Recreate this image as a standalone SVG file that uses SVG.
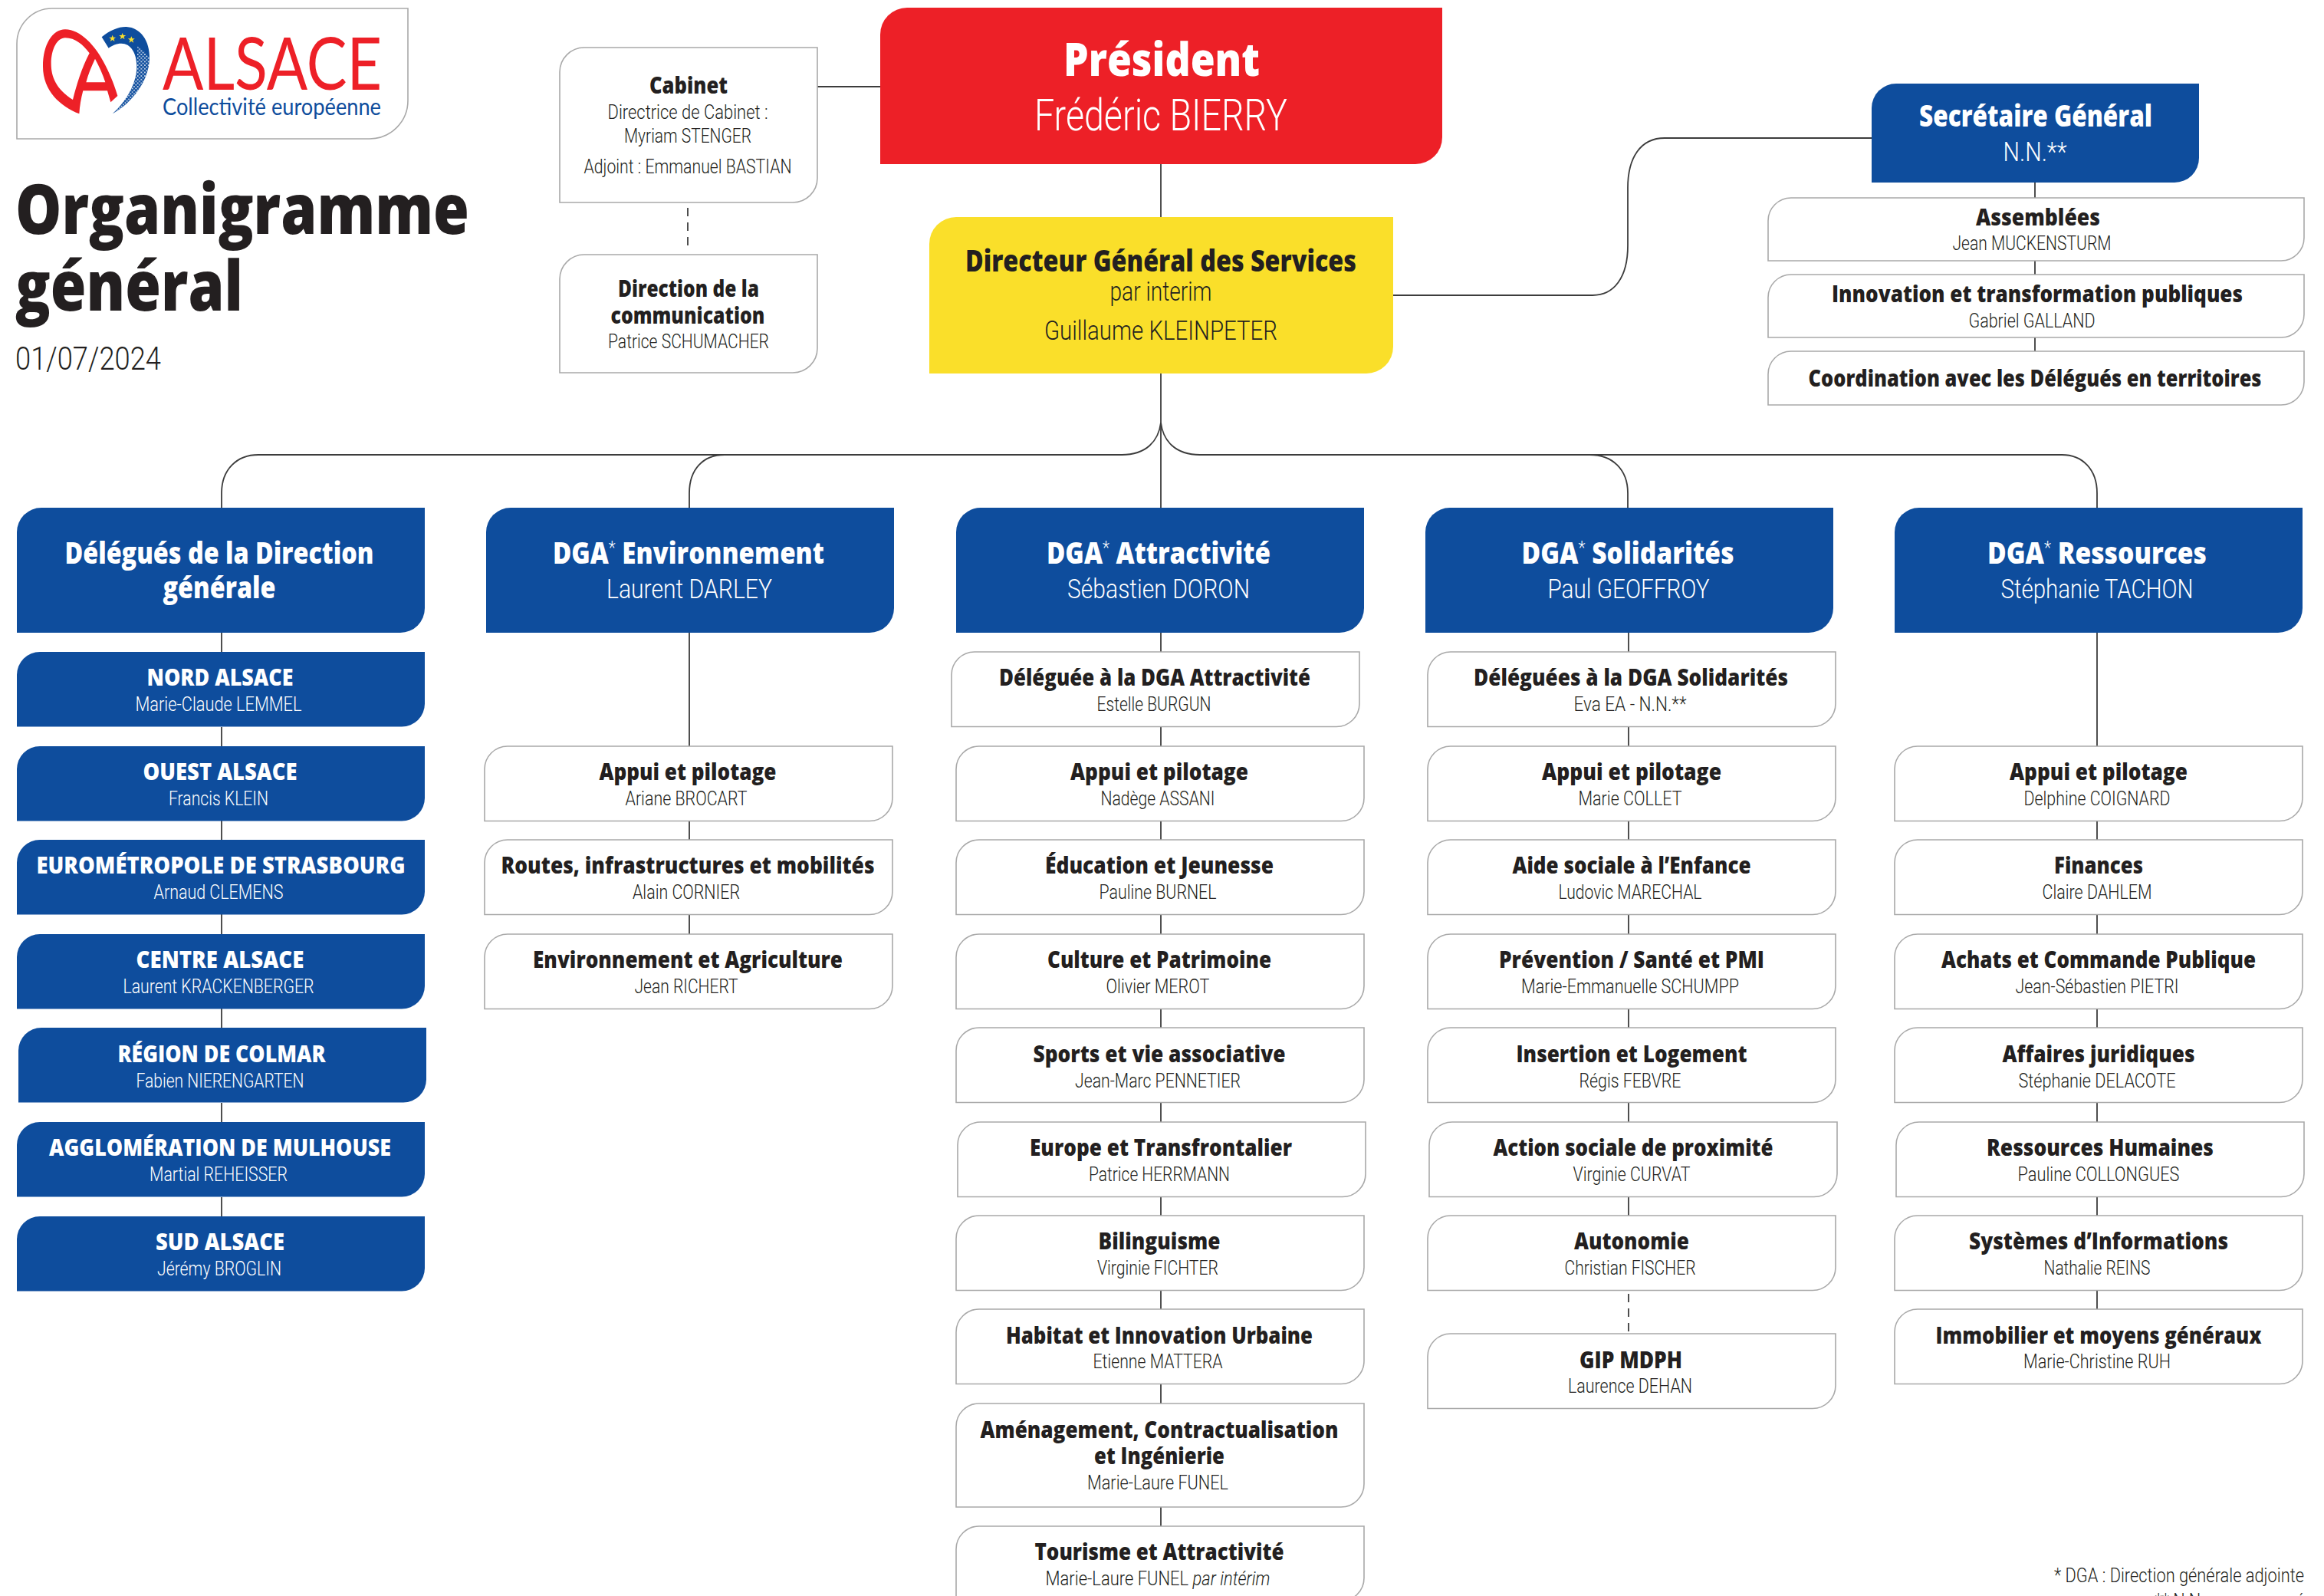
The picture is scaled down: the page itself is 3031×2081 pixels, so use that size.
<svg xmlns="http://www.w3.org/2000/svg" width="3031" height="2081" viewBox="0 0 3031 2081">
<style>
text{text-anchor:middle;fill:#231f20;font-family:"Liberation Sans",Arial,sans-serif}
.t,.h,.bt{font-family:"Open Sans","Noto Sans",sans-serif;font-weight:800}
.n,.l,.hn{font-family:Roboto,"Liberation Sans",sans-serif;font-weight:300}
.t{font-size:30px}.n{font-size:26px}.h{font-size:38px}.hn{font-size:35px}
.w{fill:#fff}
.la{text-anchor:start}
.sup{font-size:24px;font-weight:300;font-family:Roboto,sans-serif;baseline-shift:13px}
.wb{fill:#fff;stroke:#a9a9a9;stroke-width:1.6}
.bb{fill:#0e4d9d}
#connectors path{fill:none;stroke:#3c3c3c;stroke-width:1.8}
#connectors .d{stroke-dasharray:11 8}
</style>
<defs>
<path id="box" d="M0 97.5V30A30 30 0 0 1 30 0H532V67.5A30 30 0 0 1 502 97.5Z"/>
<path id="head" d="M0 163V32A32 32 0 0 1 32 0H532V131A32 32 0 0 1 500 163Z"/>
<path id="star" fill="#fadf2a" d="M0-13l3.5 9h10l-8 6 3 10-8.500-6-8.500 6 3-10-8-6h10Z"/>
<pattern id="dots" width="14" height="14" patternUnits="userSpaceOnUse"><circle cx="4" cy="4" r="2.7" fill="#fff"/><circle cx="11" cy="11" r="2.7" fill="#fff"/></pattern>
</defs>
<rect width="3031" height="2081" fill="#fff"/>
<g id="connectors">
<path d="M1066 113H1148"/><path class="d" d="M897 271V323"/>
<path d="M1514 214V283"/><path d="M1514 487V662"/>
<path d="M1817 385H2077C2105 385 2123 362 2123 320V245C2123 205 2140 180 2171 180H2441"/>
<path d="M2654 238V258"/><path d="M2654 340V358"/><path d="M2654 440V458"/>
<path d="M1514 551C1511 575 1495 593 1463 593H337C309 593 289 612 289 643V662"/>
<path d="M1463 593H945C917 593 899 612 899 643V662"/>
<path d="M1514 551C1517 575 1533 593 1565 593H2073C2103 593 2123 612 2123 643V662"/>
<path d="M2073 593H2689C2716 593 2735 612 2735 643V662"/>
<path d="M289 825V850"/><path d="M289 948V973"/><path d="M289 1070V1095"/><path d="M289 1192V1218"/><path d="M289 1315V1340"/><path d="M289 1438V1463"/><path d="M289 1561V1586"/>
<path d="M899 825V973"/><path d="M899 1070V1095"/><path d="M899 1192V1218"/>
<path d="M1514 825V850"/><path d="M1514 948V973"/><path d="M1514 1070V1095"/><path d="M1514 1192V1218"/><path d="M1514 1315V1340"/><path d="M1514 1438V1463"/><path d="M1514 1561V1585"/><path d="M1514 1682V1707"/><path d="M1514 1805V1830"/><path d="M1514 1965V1990"/>
<path d="M2124 825V850"/><path d="M2124 948V973"/><path d="M2124 1070V1095"/><path d="M2124 1192V1218"/><path d="M2124 1315V1340"/><path d="M2124 1438V1463"/><path d="M2124 1561V1585"/><path class="d" d="M2124 1687V1736"/>
<path d="M2735 825V973"/><path d="M2735 1070V1095"/><path d="M2735 1192V1218"/><path d="M2735 1315V1340"/><path d="M2735 1438V1463"/><path d="M2735 1561V1585"/><path d="M2735 1682V1707"/>
</g>
<g id="logo">
<path class="wb" d="M22 181V57A46 46 0 0 1 68 11H532V131A50 50 0 0 1 482 181Z"/>
<g transform="translate(50 30) scale(.33333)">
<path fill="#ed2027" fill-rule="evenodd" d="M160 355C85 325 18 265 18 170C18 85 55 25 105 25C165 25 225 90 262 165C285 210 300 250 310 285L283 310L270 265H175C167 295 162 325 160 355ZM135 300C70 260 50 210 50 160C50 100 75 58 105 58C145 58 175 85 200 118C170 175 150 240 135 300ZM222 140C208 170 195 200 187 232H262C252 200 238 170 222 140Z"/>
<path fill="#0e4d9d" d="M248 55C280 28 315 14 345 15C400 18 437 70 435 140C432 225 370 310 290 355C340 310 385 240 385 170C385 115 360 80 325 80C305 80 288 88 275 98Z"/>
<path fill="url(#dots)" d="M388 90C420 115 437 130 435 140C432 225 370 310 290 355C340 310 385 240 385 170Z"/>
<use href="#star" x="290" y="60"/><use href="#star" x="329" y="52"/><use href="#star" x="364" y="65"/>
</g>
<text class="la" x="212" y="117" font-size="95" textLength="286" lengthAdjust="spacingAndGlyphs" style="fill:#ed2027;font-family:Lato,sans-serif">ALSACE</text>
<text class="la" x="212" y="150" font-size="31" textLength="285" lengthAdjust="spacingAndGlyphs" style="fill:#0e4d9d;font-family:Lato,sans-serif">Collectivité européenne</text>
</g>
<g id="title">
<text class="bt la" x="20" y="305" font-size="90" textLength="592" lengthAdjust="spacingAndGlyphs">Organigramme</text>
<text class="bt la" x="20" y="405" font-size="90" textLength="297" lengthAdjust="spacingAndGlyphs">général</text>
<text class="l la" x="20" y="482" font-size="42" textLength="190" lengthAdjust="spacingAndGlyphs">01/07/2024</text>
</g>
<g id="cabinet">
<path class="wb" d="M730 264V94A32 32 0 0 1 762 62H1066V232A32 32 0 0 1 1034 264Z"/>
<text class="t" x="898" y="122" textLength="102" lengthAdjust="spacingAndGlyphs">Cabinet</text>
<text class="n" x="897" y="155" textLength="209" lengthAdjust="spacingAndGlyphs">Directrice de Cabinet :</text>
<text class="n" x="897" y="186" textLength="166" lengthAdjust="spacingAndGlyphs">Myriam STENGER</text>
<text class="n" x="897" y="226" textLength="271" lengthAdjust="spacingAndGlyphs">Adjoint : Emmanuel BASTIAN</text>
</g>
<g id="communication">
<path class="wb" d="M730 486V364A32 32 0 0 1 762 332H1066V454A32 32 0 0 1 1034 486Z"/>
<text class="t" x="898" y="387" textLength="184" lengthAdjust="spacingAndGlyphs">Direction de la</text>
<text class="t" x="897" y="422" textLength="201" lengthAdjust="spacingAndGlyphs">communication</text>
<text class="n" x="898" y="454" textLength="210" lengthAdjust="spacingAndGlyphs">Patrice SCHUMACHER</text>
</g>
<g id="president">
<path fill="#ed2027" d="M1148 214V45A35 35 0 0 1 1183 10H1881V179A35 35 0 0 1 1846 214Z"/>
<text class="bt w" x="1515" y="99" font-size="60" textLength="256" lengthAdjust="spacingAndGlyphs">Président</text>
<text class="l w" x="1514" y="170" font-size="58" textLength="330" lengthAdjust="spacingAndGlyphs">Frédéric BIERRY</text>
</g>
<g id="dgs">
<path fill="#fadf2a" d="M1212 487V318A35 35 0 0 1 1247 283H1817V452A35 35 0 0 1 1782 487Z"/>
<text class="h" x="1514" y="354" textLength="510" lengthAdjust="spacingAndGlyphs">Directeur Général des Services</text>
<text class="hn" x="1514" y="392" font-size="33" textLength="133" lengthAdjust="spacingAndGlyphs">par interim</text>
<text class="hn" x="1514" y="443" font-size="37" textLength="304" lengthAdjust="spacingAndGlyphs">Guillaume KLEINPETER</text>
</g>
<g id="sg">
<path class="bb" d="M2441 238V141A32 32 0 0 1 2473 109H2868V206A32 32 0 0 1 2836 238Z"/>
<text class="h w" x="2655" y="165" textLength="304" lengthAdjust="spacingAndGlyphs">Secrétaire Général</text>
<text class="hn w" x="2654" y="210" textLength="83" lengthAdjust="spacingAndGlyphs">N.N.**</text>
</g>
<g id="assemblees">
<path class="wb" d="M2306 340V288A30 30 0 0 1 2336 258H3005V310A30 30 0 0 1 2975 340Z"/>
<text class="t" x="2658" y="294" textLength="162" lengthAdjust="spacingAndGlyphs">Assemblées</text>
<text class="n" x="2650" y="326" textLength="207" lengthAdjust="spacingAndGlyphs">Jean MUCKENSTURM</text>
</g>
<g id="innovation">
<path class="wb" d="M2306 440V388A30 30 0 0 1 2336 358H3005V410A30 30 0 0 1 2975 440Z"/>
<text class="t" x="2657" y="394" textLength="536" lengthAdjust="spacingAndGlyphs">Innovation et transformation publiques</text>
<text class="n" x="2650" y="427" textLength="165" lengthAdjust="spacingAndGlyphs">Gabriel GALLAND</text>
</g>
<g id="coordination">
<path class="wb" d="M2306 528V488A30 30 0 0 1 2336 458H3005V498A30 30 0 0 1 2975 528Z"/>
<text class="t" x="2654" y="504" textLength="591" lengthAdjust="spacingAndGlyphs">Coordination avec les Délégués en territoires</text>
</g>

<g id="delegues"><use href="#head" class="bb" x="22" y="662"/>
<text class="h w" x="286" y="735" textLength="403" lengthAdjust="spacingAndGlyphs">Délégués de la Direction</text>
<text class="h w" x="286" y="780" textLength="147" lengthAdjust="spacingAndGlyphs">générale</text></g>
<g id="nord"><use href="#box" class="bb" x="22" y="850"/>
<text class="t w" x="287" y="894" textLength="191" lengthAdjust="spacingAndGlyphs">NORD ALSACE</text>
<text class="n w" x="285" y="927" textLength="217" lengthAdjust="spacingAndGlyphs">Marie-Claude LEMMEL</text></g>
<g id="ouest"><use href="#box" class="bb" x="22" y="973"/>
<text class="t w" x="287" y="1017" textLength="201" lengthAdjust="spacingAndGlyphs">OUEST ALSACE</text>
<text class="n w" x="285" y="1050" textLength="130" lengthAdjust="spacingAndGlyphs">Francis KLEIN</text></g>
<g id="eurometropole"><use href="#box" class="bb" x="22" y="1095"/>
<text class="t w" x="288" y="1139" textLength="481" lengthAdjust="spacingAndGlyphs">EUROMÉTROPOLE DE STRASBOURG</text>
<text class="n w" x="285" y="1172" textLength="169" lengthAdjust="spacingAndGlyphs">Arnaud CLEMENS</text></g>
<g id="centre"><use href="#box" class="bb" x="22" y="1218"/>
<text class="t w" x="287" y="1262" textLength="219" lengthAdjust="spacingAndGlyphs">CENTRE ALSACE</text>
<text class="n w" x="285" y="1295" textLength="249" lengthAdjust="spacingAndGlyphs">Laurent KRACKENBERGER</text></g>
<g id="colmar"><use href="#box" class="bb" x="24" y="1340"/>
<text class="t w" x="289" y="1385" textLength="271" lengthAdjust="spacingAndGlyphs">RÉGION DE COLMAR</text>
<text class="n w" x="287" y="1418" textLength="219" lengthAdjust="spacingAndGlyphs">Fabien NIERENGARTEN</text></g>
<g id="mulhouse"><use href="#box" class="bb" x="22" y="1463"/>
<text class="t w" x="287" y="1507" textLength="446" lengthAdjust="spacingAndGlyphs">AGGLOMÉRATION DE MULHOUSE</text>
<text class="n w" x="285" y="1540" textLength="180" lengthAdjust="spacingAndGlyphs">Martial REHEISSER</text></g>
<g id="sud"><use href="#box" class="bb" x="22" y="1586"/>
<text class="t w" x="287" y="1630" textLength="168" lengthAdjust="spacingAndGlyphs">SUD ALSACE</text>
<text class="n w" x="286" y="1663" textLength="162" lengthAdjust="spacingAndGlyphs">Jérémy BROGLIN</text></g>

<g id="dga-env"><use href="#head" class="bb" x="634" y="662"/>
<text class="h w" x="898" y="735" textLength="354" lengthAdjust="spacingAndGlyphs">DGA<tspan class="sup">*</tspan> Environnement</text>
<text class="hn w" x="899" y="780" textLength="216" lengthAdjust="spacingAndGlyphs">Laurent DARLEY</text></g>
<g id="env1"><use href="#box" class="wb" x="632" y="973"/>
<text class="t" x="897" y="1017" textLength="231" lengthAdjust="spacingAndGlyphs">Appui et pilotage</text>
<text class="n" x="895" y="1050" textLength="159" lengthAdjust="spacingAndGlyphs">Ariane BROCART</text></g>
<g id="env2"><use href="#box" class="wb" x="632" y="1095"/>
<text class="t" x="897" y="1139" textLength="487" lengthAdjust="spacingAndGlyphs">Routes, infrastructures et mobilités</text>
<text class="n" x="895" y="1172" textLength="140" lengthAdjust="spacingAndGlyphs">Alain CORNIER</text></g>
<g id="env3"><use href="#box" class="wb" x="632" y="1218"/>
<text class="t" x="897" y="1262" textLength="404" lengthAdjust="spacingAndGlyphs">Environnement et Agriculture</text>
<text class="n" x="895" y="1295" textLength="135" lengthAdjust="spacingAndGlyphs">Jean RICHERT</text></g>

<g id="dga-att"><use href="#head" class="bb" x="1247" y="662"/>
<text class="h w" x="1511" y="735" textLength="292" lengthAdjust="spacingAndGlyphs">DGA<tspan class="sup">*</tspan> Attractivité</text>
<text class="hn w" x="1511" y="780" textLength="238" lengthAdjust="spacingAndGlyphs">Sébastien DORON</text></g>
<g id="att0"><use href="#box" class="wb" x="1241" y="850"/>
<text class="t" x="1506" y="894" textLength="406" lengthAdjust="spacingAndGlyphs">Déléguée à la DGA Attractivité</text>
<text class="n" x="1505" y="927" textLength="149" lengthAdjust="spacingAndGlyphs">Estelle BURGUN</text></g>
<g id="att1"><use href="#box" class="wb" x="1247" y="973"/>
<text class="t" x="1512" y="1017" textLength="232" lengthAdjust="spacingAndGlyphs">Appui et pilotage</text>
<text class="n" x="1510" y="1050" textLength="149" lengthAdjust="spacingAndGlyphs">Nadège ASSANI</text></g>
<g id="att2"><use href="#box" class="wb" x="1247" y="1095"/>
<text class="t" x="1512" y="1139" textLength="298" lengthAdjust="spacingAndGlyphs">Éducation et Jeunesse</text>
<text class="n" x="1510" y="1172" textLength="153" lengthAdjust="spacingAndGlyphs">Pauline BURNEL</text></g>
<g id="att3"><use href="#box" class="wb" x="1247" y="1218"/>
<text class="t" x="1512" y="1262" textLength="292" lengthAdjust="spacingAndGlyphs">Culture et Patrimoine</text>
<text class="n" x="1510" y="1295" textLength="135" lengthAdjust="spacingAndGlyphs">Olivier MEROT</text></g>
<g id="att4"><use href="#box" class="wb" x="1247" y="1340"/>
<text class="t" x="1512" y="1385" textLength="329" lengthAdjust="spacingAndGlyphs">Sports et vie associative</text>
<text class="n" x="1510" y="1418" textLength="216" lengthAdjust="spacingAndGlyphs">Jean-Marc PENNETIER</text></g>
<g id="att5"><use href="#box" class="wb" x="1249" y="1463"/>
<text class="t" x="1514" y="1507" textLength="342" lengthAdjust="spacingAndGlyphs">Europe et Transfrontalier</text>
<text class="n" x="1512" y="1540" textLength="184" lengthAdjust="spacingAndGlyphs">Patrice HERRMANN</text></g>
<g id="att6"><use href="#box" class="wb" x="1247" y="1585"/>
<text class="t" x="1512" y="1629" textLength="159" lengthAdjust="spacingAndGlyphs">Bilinguisme</text>
<text class="n" x="1510" y="1662" textLength="158" lengthAdjust="spacingAndGlyphs">Virginie FICHTER</text></g>
<g id="att7"><use href="#box" class="wb" x="1247" y="1707"/>
<text class="t" x="1512" y="1752" textLength="400" lengthAdjust="spacingAndGlyphs">Habitat et Innovation Urbaine</text>
<text class="n" x="1510" y="1784" textLength="169" lengthAdjust="spacingAndGlyphs">Etienne MATTERA</text></g>
<g id="att8"><path class="wb" d="M1247 1965V1860A30 30 0 0 1 1277 1830H1779V1935A30 30 0 0 1 1749 1965Z"/>
<text class="t" x="1512" y="1875" textLength="467" lengthAdjust="spacingAndGlyphs">Aménagement, Contractualisation</text>
<text class="t" x="1512" y="1909" textLength="170" lengthAdjust="spacingAndGlyphs">et Ingénierie</text>
<text class="n" x="1510" y="1942" textLength="184" lengthAdjust="spacingAndGlyphs">Marie-Laure FUNEL</text></g>
<g id="att9"><use href="#box" class="wb" x="1247" y="1990"/>
<text class="t" x="1512" y="2034" textLength="325" lengthAdjust="spacingAndGlyphs">Tourisme et Attractivité</text>
<text class="n" x="1510" y="2067" textLength="293" lengthAdjust="spacingAndGlyphs">Marie-Laure FUNEL <tspan font-style="italic">par intérim</tspan></text></g>

<g id="dga-sol"><use href="#head" class="bb" x="1859" y="662"/>
<text class="h w" x="2123" y="735" textLength="277" lengthAdjust="spacingAndGlyphs">DGA<tspan class="sup">*</tspan> Solidarités</text>
<text class="hn w" x="2124" y="780" textLength="211" lengthAdjust="spacingAndGlyphs">Paul GEOFFROY</text></g>
<g id="sol0"><use href="#box" class="wb" x="1862" y="850"/>
<text class="t" x="2127" y="894" textLength="410" lengthAdjust="spacingAndGlyphs">Déléguées à la DGA Solidarités</text>
<text class="n" x="2126" y="927" textLength="147" lengthAdjust="spacingAndGlyphs">Eva EA - N.N.**</text></g>
<g id="sol1"><use href="#box" class="wb" x="1862" y="973"/>
<text class="t" x="2128" y="1017" textLength="234" lengthAdjust="spacingAndGlyphs">Appui et pilotage</text>
<text class="n" x="2126" y="1050" textLength="135" lengthAdjust="spacingAndGlyphs">Marie COLLET</text></g>
<g id="sol2"><use href="#box" class="wb" x="1862" y="1095"/>
<text class="t" x="2128" y="1139" textLength="311" lengthAdjust="spacingAndGlyphs">Aide sociale à l’Enfance</text>
<text class="n" x="2126" y="1172" textLength="187" lengthAdjust="spacingAndGlyphs">Ludovic MARECHAL</text></g>
<g id="sol3"><use href="#box" class="wb" x="1862" y="1218"/>
<text class="t" x="2128" y="1262" textLength="346" lengthAdjust="spacingAndGlyphs">Prévention / Santé et PMI</text>
<text class="n" x="2126" y="1295" textLength="284" lengthAdjust="spacingAndGlyphs">Marie-Emmanuelle SCHUMPP</text></g>
<g id="sol4"><use href="#box" class="wb" x="1862" y="1340"/>
<text class="t" x="2128" y="1385" textLength="301" lengthAdjust="spacingAndGlyphs">Insertion et Logement</text>
<text class="n" x="2126" y="1418" textLength="133" lengthAdjust="spacingAndGlyphs">Régis FEBVRE</text></g>
<g id="sol5"><use href="#box" class="wb" x="1864" y="1463"/>
<text class="t" x="2130" y="1507" textLength="365" lengthAdjust="spacingAndGlyphs">Action sociale de proximité</text>
<text class="n" x="2128" y="1540" textLength="153" lengthAdjust="spacingAndGlyphs">Virginie CURVAT</text></g>
<g id="sol6"><use href="#box" class="wb" x="1862" y="1585"/>
<text class="t" x="2128" y="1629" textLength="150" lengthAdjust="spacingAndGlyphs">Autonomie</text>
<text class="n" x="2126" y="1662" textLength="171" lengthAdjust="spacingAndGlyphs">Christian FISCHER</text></g>
<g id="sol7"><use href="#box" class="wb" x="1862" y="1739"/>
<text class="t" x="2127" y="1784" textLength="134" lengthAdjust="spacingAndGlyphs">GIP MDPH</text>
<text class="n" x="2126" y="1816" textLength="162" lengthAdjust="spacingAndGlyphs">Laurence DEHAN</text></g>

<g id="dga-res"><use href="#head" class="bb" x="2471" y="662"/>
<text class="h w" x="2735" y="735" textLength="286" lengthAdjust="spacingAndGlyphs">DGA<tspan class="sup">*</tspan> Ressources</text>
<text class="hn w" x="2735" y="780" textLength="251" lengthAdjust="spacingAndGlyphs">Stéphanie TACHON</text></g>
<g id="res1"><use href="#box" class="wb" x="2471" y="973"/>
<text class="t" x="2737" y="1017" textLength="232" lengthAdjust="spacingAndGlyphs">Appui et pilotage</text>
<text class="n" x="2735" y="1050" textLength="191" lengthAdjust="spacingAndGlyphs">Delphine COIGNARD</text></g>
<g id="res2"><use href="#box" class="wb" x="2471" y="1095"/>
<text class="t" x="2737" y="1139" textLength="116" lengthAdjust="spacingAndGlyphs">Finances</text>
<text class="n" x="2735" y="1172" textLength="143" lengthAdjust="spacingAndGlyphs">Claire DAHLEM</text></g>
<g id="res3"><use href="#box" class="wb" x="2471" y="1218"/>
<text class="t" x="2737" y="1262" textLength="410" lengthAdjust="spacingAndGlyphs">Achats et Commande Publique</text>
<text class="n" x="2735" y="1295" textLength="213" lengthAdjust="spacingAndGlyphs">Jean-Sébastien PIETRI</text></g>
<g id="res4"><use href="#box" class="wb" x="2471" y="1340"/>
<text class="t" x="2737" y="1385" textLength="251" lengthAdjust="spacingAndGlyphs">Affaires juridiques</text>
<text class="n" x="2735" y="1418" textLength="205" lengthAdjust="spacingAndGlyphs">Stéphanie DELACOTE</text></g>
<g id="res5"><use href="#box" class="wb" x="2473" y="1463"/>
<text class="t" x="2739" y="1507" textLength="296" lengthAdjust="spacingAndGlyphs">Ressources Humaines</text>
<text class="n" x="2737" y="1540" textLength="211" lengthAdjust="spacingAndGlyphs">Pauline COLLONGUES</text></g>
<g id="res6"><use href="#box" class="wb" x="2471" y="1585"/>
<text class="t" x="2737" y="1629" textLength="338" lengthAdjust="spacingAndGlyphs">Systèmes d’Informations</text>
<text class="n" x="2735" y="1662" textLength="139" lengthAdjust="spacingAndGlyphs">Nathalie REINS</text></g>
<g id="res7"><use href="#box" class="wb" x="2471" y="1707"/>
<text class="t" x="2737" y="1752" textLength="425" lengthAdjust="spacingAndGlyphs">Immobilier et moyens généraux</text>
<text class="n" x="2735" y="1784" textLength="192" lengthAdjust="spacingAndGlyphs">Marie-Christine RUH</text></g>

<g id="notes">
<text class="n" x="2842" y="2063" textLength="326" lengthAdjust="spacingAndGlyphs">* DGA : Direction générale adjointe</text>
<text class="n" x="2908" y="2096" textLength="195" lengthAdjust="spacingAndGlyphs">** N.N. : non nommé</text>
</g>
</svg>
